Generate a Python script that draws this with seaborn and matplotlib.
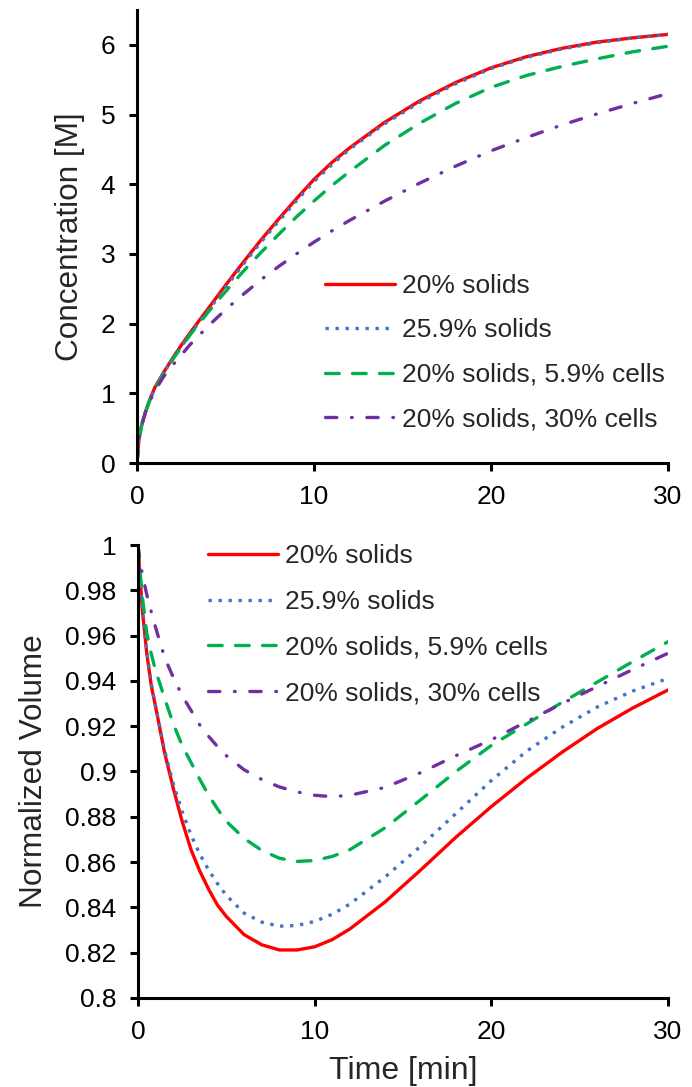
import numpy as np
import pandas as pd
import matplotlib
matplotlib.use("Agg")
import matplotlib.pyplot as plt
import seaborn as sns

# ---------------- data ----------------
time_min = [0, 0.1, 0.25, 0.5, 0.75, 1, 1.5, 2, 2.5, 3, 3.5, 4, 4.5, 5, 6, 7, 8, 9, 10,
            11, 12, 14, 16, 18, 20, 22, 24, 26, 28, 30]

labels = ["20% solids", "25.9% solids", "20% solids, 5.9% cells", "20% solids, 30% cells"]

conc_20 = [0, 0.33, 0.53, 0.75, 0.93, 1.08, 1.30, 1.50, 1.69, 1.87, 2.04, 2.21, 2.38, 2.55,
           2.88, 3.20, 3.50, 3.79, 4.07, 4.31, 4.52, 4.89, 5.20, 5.46, 5.67, 5.83, 5.95,
           6.04, 6.10, 6.15]
conc_259 = [0, 0.33, 0.53, 0.75, 0.92, 1.07, 1.29, 1.49, 1.67, 1.85, 2.02, 2.18, 2.35, 2.52,
            2.85, 3.17, 3.47, 3.76, 4.04, 4.28, 4.50, 4.87, 5.18, 5.44, 5.66, 5.82, 5.94,
            6.03, 6.10, 6.15]
conc_59c = [0, 0.33, 0.53, 0.75, 0.92, 1.06, 1.29, 1.48, 1.66, 1.84, 2.00, 2.16, 2.31, 2.46,
            2.75, 3.02, 3.28, 3.53, 3.76, 3.98, 4.18, 4.56, 4.88, 5.16, 5.39, 5.56, 5.69,
            5.80, 5.90, 5.98]
conc_30c = [0, 0.33, 0.54, 0.75, 0.90, 1.03, 1.24, 1.40, 1.55, 1.70, 1.83, 1.96, 2.08, 2.20,
            2.42, 2.63, 2.82, 3.00, 3.17, 3.33, 3.48, 3.76, 4.02, 4.26, 4.48, 4.67, 4.85,
            5.01, 5.16, 5.30]

vol_20 = [1.0, 0.988, 0.971, 0.952, 0.938, 0.9285, 0.9085, 0.8925, 0.878, 0.8655, 0.856,
          0.848, 0.841, 0.836, 0.828, 0.8235, 0.8212, 0.8212, 0.8226, 0.8258, 0.8305, 0.8425,
          0.8565, 0.871, 0.8845, 0.897, 0.9085, 0.919, 0.928, 0.936]
vol_259 = [1.0, 0.988, 0.972, 0.953, 0.939, 0.9285, 0.9095, 0.8945, 0.8823, 0.872, 0.8635,
           0.8565, 0.8505, 0.8453, 0.8375, 0.8335, 0.8317, 0.832, 0.8338, 0.837, 0.8415,
           0.8535, 0.867, 0.8815, 0.896, 0.909, 0.9195, 0.9285, 0.9355, 0.9411]
vol_59c = [1.0, 0.990, 0.977, 0.961, 0.952, 0.9445, 0.9325, 0.921, 0.9115, 0.904, 0.8965,
           0.8895, 0.8835, 0.878, 0.8705, 0.8652, 0.8617, 0.8603, 0.8607, 0.8625, 0.8655,
           0.8752, 0.8875, 0.900, 0.9115, 0.921, 0.9305, 0.9395, 0.9485, 0.9573]
vol_30c = [1.0, 0.9934, 0.987, 0.978, 0.9705, 0.9635, 0.9505, 0.9415, 0.9335, 0.927, 0.9205,
           0.9155, 0.911, 0.907, 0.9008, 0.8965, 0.8932, 0.891, 0.8895, 0.8889, 0.8895,
           0.893, 0.8995, 0.907, 0.914, 0.922, 0.930, 0.9375, 0.945, 0.9522]

conc_ticks = [0, 1, 2, 3, 4, 5, 6]
vol_ticks = [0.8, 0.82, 0.84, 0.86, 0.88, 0.9, 0.92, 0.94, 0.96, 0.98, 1.0]
vol_tick_labels = ["0.8", "0.82", "0.84", "0.86", "0.88", "0.9", "0.92", "0.94", "0.96", "0.98", "1"]
time_ticks = [0, 10, 20, 30]

# ---------------- style ----------------
sns.set_style("ticks")
plt.rcParams["font.family"] = ["Liberation Sans", "DejaVu Sans"]

colors = ["#FF0000", "#4472C4", "#00B050", "#7030A0"]
styles = ["-", (0, (1, 2.0)), (0, (4.1, 4.0)), (0, (3.4, 4.4, 0.2, 4.4))]
caps = ["round", "butt", "round", "round"]
LW = 2.4

fig = plt.figure(figsize=(6.92, 10.87), dpi=100)
ax1 = fig.add_axes([0.198, 0.574, 0.7673, 0.4168])
ax2 = fig.add_axes([0.1994, 0.0819, 0.7659, 0.4167])


def draw(ax, series):
    for y, lab, c, ls, cap in zip(series, labels, colors, styles, caps):
        sns.lineplot(x=time_min, y=y, ax=ax, color=c, linestyle=ls, linewidth=LW,
                     label=lab, dash_capstyle=cap, solid_capstyle="round")


draw(ax1, [conc_20, conc_259, conc_59c, conc_30c])
draw(ax2, [vol_20, vol_259, vol_59c, vol_30c])

for ax in (ax1, ax2):
    ax.set_xlim(0, 30)
    ax.set_xticks(time_ticks)
    ax.set_xticklabels([str(t) for t in time_ticks])
    for s in ("top", "right"):
        ax.spines[s].set_visible(False)
    for s in ("left", "bottom"):
        ax.spines[s].set_linewidth(2.2)
        ax.spines[s].set_color("black")
    ax.tick_params(direction="out", length=5.5, width=2.2, labelsize=19,
                   colors="black")
    ax.tick_params(axis="y", pad=10)
    ax.tick_params(axis="x", pad=10)

ax1.set_ylim(0, 6.5)
ax1.set_yticks(conc_ticks)
ax1.set_yticklabels([str(v) for v in conc_ticks])
ax1.set_ylabel("Concentration [M]", fontsize=22.7)
ax1.set_xlabel("")
ax1.yaxis.set_label_coords(-0.098, 0.5)

ax2.set_ylim(0.8, 1.0)
ax2.set_yticks(vol_ticks)
ax2.set_yticklabels(vol_tick_labels)
ax2.set_ylabel("Normalized Volume", fontsize=22.7)
ax2.set_xlabel("Time [min]", fontsize=23)
ax2.yaxis.set_label_coords(-0.168, 0.5)
ax2.xaxis.set_label_coords(0.5, -0.128)

leg_kw = dict(frameon=False, fontsize=19, handlelength=2.65, handletextpad=0.27,
              borderpad=0, borderaxespad=0, loc="upper left")
ax1.legend(bbox_to_anchor=(0.354, 0.417), labelspacing=0.77, **leg_kw)
ax2.legend(bbox_to_anchor=(0.132, 1.002), labelspacing=0.82, **leg_kw)

fig.savefig("out.png", dpi=100)
